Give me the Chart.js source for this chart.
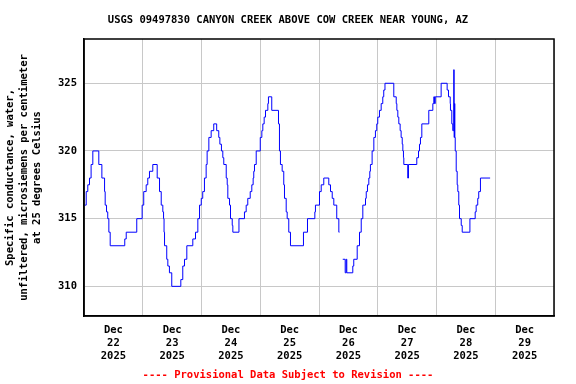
<!DOCTYPE html>
<html>
<head>
<meta charset="utf-8">
<script src="https://cdn.jsdelivr.net/npm/chart.js@4/dist/chart.umd.min.js"></script>
<style>
  body { margin: 0; background: #fff; }
  canvas { display: block; }
</style>
</head>
<body>
<canvas id="chart" width="576" height="384"></canvas>
<script>
// Hours since Dec 22 00:00 where the reading changes, and the new reading
const hours = [0.2, 0.9, 1.55, 2.25, 2.9, 3.6, 6.05, 7.3, 8.4, 8.65, 9.2, 9.7, 10.15, 10.7, 16.65, 17.25, 21.55, 23.75,
  24.4, 25.4, 26.05, 26.75, 28.1, 29.9, 30.85, 31.55, 32.2, 32.5, 32.7, 32.9, 33.8, 34.25, 34.9, 35.85, 39.55, 40.35,
  41.05, 42, 44.45, 45.55, 46.5, 47.2, 47.9, 48.5, 49.2, 49.9, 50.3, 51, 51.95, 53.0, 54.2, 55.05, 55.5, 56.15, 56.7,
  57.1, 58.1, 58.5, 58.75, 59.45, 59.85, 60.55, 60.8, 63.3, 65.55, 66.25, 66.9, 67.9, 68.55, 69.1, 69.35, 69.65, 70.35,
  72, 72.65, 73.05, 73.6, 74.15, 75.1, 75.35, 76.7, 79.45, 79.85, 80.25, 80.95, 81.6, 81.9, 82.6, 83, 83.65, 84.35,
  89.65, 91.3, 94.3, 94.55, 96.2, 96.9, 97.95, 100, 100.7, 101.4, 102.05, 103.25, 104.1, 104.35, 105,
  105.7, 106.7, 107.1, 107.35, 109.8, 110.2, 111.6, 112.55, 113.25, 113.9, 115, 115.3, 115.8, 116.35, 116.75, 117,
  117.7, 118.4, 119.05, 119.6, 120, 120.7, 121.4, 122.05, 122.45, 122.95, 126.55, 127.55, 127.8, 128.2, 128.6, 129.15,
  129.55, 130, 130.25, 130.5, 130.65, 132.25, 132.55, 135.95, 136.65, 137.05, 137.45, 138, 140.85, 142.5, 142.9, 143.2,
  143.5, 145.9, 148.35, 148.9, 149.6, 149.7, 150.25, 150.65, 151.05, 151.2, 151.35, 151.5, 151.65, 152.05, 152.45,
  152.7, 153.1, 153.4, 154.1, 154.5, 157.65, 159.8, 160.2, 160.85, 161.25, 161.95, 165.9];
const conductance = [316, 317, 317.5, 318, 319, 320, 319, 318, 317, 316, 315.5, 315, 314, 313, 313.5, 314, 315, 316,
  317, 317.5, 318, 318.5, 319, 318, 317, 316, 315.5, 315, 314, 313, 312, 311.5, 311, 310, 310.5, 311.5,
  312, 313, 313.5, 314, 315, 316, 316.5, 317, 318, 319, 320, 321, 321.5, 322, 321.5, 321, 320.5, 320, 319.5,
  319, 318, 317.5, 316.5, 316, 315, 314.5, 314, 315, 315.5, 316, 316.5, 317, 317.5, 318, 318.5, 319, 320,
  321, 321.5, 322, 322.5, 323, 323.5, 324, 323, 322, 320, 319, 318.5, 317.5, 316.5, 315.5, 315, 314, 313,
  314, 315, 315.5, 316, 317, 317.5, 318, 317.5, 317, 316.5, 316, 315, 314, 314, null,
  312, 311, 312, 311, 311.5, 312, 313, 314, 315, 316, 316.5, 317, 317.5, 318, 318.5, 319,
  320, 321, 321.5, 322, 322.5, 323, 323.5, 324, 324.5, 325, 324, 323.5, 323, 322.5, 322, 321.5,
  321, 320.5, 320, 319.5, 319, 318, 319, 319.5, 320, 320.5, 321, 322, 323, 323.5, 324, 323.5,
  324, 325, 324.5, 324, 323.5, 323, 322, 321.5, 326, 321, 323.5, 321, 320, 318.5, 317.5,
  317, 316, 315, 314.5, 314, 315, 315.5, 316, 316.5, 317, 318, 318];

const yTicks = [310, 315, 320, 325];
const monthLabel = 'Dec';
const dayLabels = ['22', '23', '24', '25', '26', '27', '28', '29'];
const yearLabel = '2025';

const points = hours.map((h, i) => ({ x: h, y: conductance[i] }));

Chart.defaults.font.family = '"DejaVu Sans Mono", monospace';
Chart.defaults.font.weight = 'bold';
Chart.defaults.font.size = 10.5;
Chart.defaults.color = '#000';

// Closes the frame on the top and right sides
const frame = {
  id: 'frame',
  afterDraw(chart) {
    const { ctx, chartArea: a } = chart;
    ctx.save();
    ctx.strokeStyle = '#000';
    ctx.lineWidth = 1.5;
    ctx.strokeRect(a.left, a.top, a.right - a.left, a.bottom - a.top);
    ctx.restore();
  }
};

new Chart(document.getElementById('chart'), {
  type: 'line',
  data: {
    datasets: [{
      data: points,
      borderColor: '#0000ff',
      borderWidth: 1,
      pointRadius: 0,
      stepped: 'before',
      spanGaps: false,
      fill: false
    }]
  },
  options: {
    responsive: false,
    animation: false,
    devicePixelRatio: 1,
    layout: { padding: 0 },
    plugins: {
      legend: { display: false },
      tooltip: { enabled: false },
      title: {
        display: true,
        text: 'USGS 09497830 CANYON CREEK ABOVE COW CREEK NEAR YOUNG, AZ',
        font: { size: 10.5, weight: 'bold', lineHeight: 1.2 },
        color: '#000',
        padding: { top: 13.7, bottom: 12.7 }
      },
      subtitle: {
        display: true,
        position: 'bottom',
        text: '---- Provisional Data Subject to Revision ----',
        font: { size: 10.5, weight: 'bold', lineHeight: 1.2 },
        color: '#ff0000',
        padding: { top: 2, bottom: 2.7 }
      }
    },
    scales: {
      x: {
        type: 'linear',
        min: 0,
        max: 192,
        afterBuildTicks: scale => {
          const t = [];
          for (let h = 0; h <= 192; h += 12) t.push({ value: h });
          scale.ticks = t;
        },
        afterFit: scale => { scale.height = 50.7; },
        grid: {
          drawTicks: false,
          color: c => (c.tick && c.tick.value % 24 === 0) ? '#c8c8c8' : 'rgba(0,0,0,0)',
          lineWidth: 1
        },
        border: { color: '#000', width: 1.5 },
        ticks: {
          autoSkip: false,
          maxRotation: 0,
          padding: 7.5,
          font: { size: 10.5, weight: 'bold', lineHeight: 1.24 },
          callback: v => (v % 24 === 12) ? [monthLabel, dayLabels[Math.floor(v / 24)], yearLabel] : ''
        }
      },
      y: {
        min: 307.81,
        max: 328.27,
        afterBuildTicks: scale => { scale.ticks = yTicks.map(v => ({ value: v })); },
        afterFit: scale => { scale.width = 84; },
        grid: { drawTicks: false, color: '#c8c8c8', lineWidth: 1 },
        border: { color: '#000', width: 1.5 },
        ticks: { padding: 7, font: { size: 10.5, weight: 'bold' } },
        title: {
          display: true,
          text: ['Specific conductance, water,', 'unfiltered, microsiemens per centimeter', 'at 25 degrees Celsius'],
          font: { size: 10.5, weight: 'bold', lineHeight: 1.286 },
          padding: { top: 4, bottom: 0 }
        }
      },
      // empty right margin so the titles center on the full page
      yRight: {
        position: 'right',
        display: true,
        min: 307.81,
        max: 328.27,
        afterFit: scale => { scale.width = 22; },
        grid: { display: false },
        border: { display: false },
        ticks: { display: false }
      }
    }
  },
  plugins: [frame]
});
</script>
</body>
</html>
